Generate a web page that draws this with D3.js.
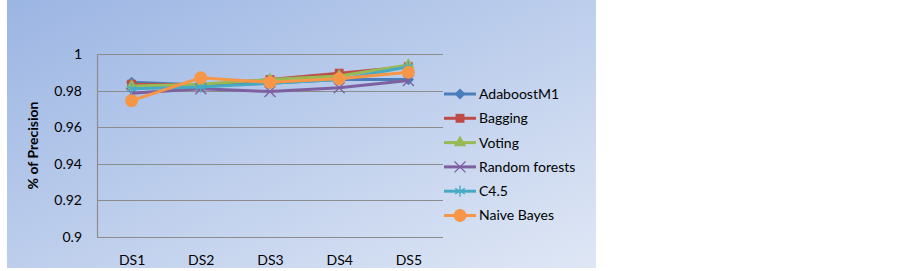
<!DOCTYPE html>
<html>
<head>
<meta charset="utf-8">
<script src="https://cdn.jsdelivr.net/npm/d3@7"></script>
<style>
  body { margin: 0; background: #fff; }
  text { font-family: Lato, "Open Sans", sans-serif; fill: #000; }
</style>
</head>
<body>
<div id="chart"></div>
<script>
const categories = ["DS1", "DS2", "DS3", "DS4", "DS5"];
const seriesNames = ["AdaboostM1", "Bagging", "Voting", "Random forests", "C4.5", "Naive Bayes"];
const adaboost = [0.9845, 0.9830, 0.9840, 0.9860, 0.9860];
const bagging = [0.9835, 0.9830, 0.9860, 0.9895, 0.9930];
const voting = [0.9825, 0.9835, 0.9860, 0.9880, 0.9940];
const randomForests = [0.9785, 0.9810, 0.9795, 0.9815, 0.9855];
const c45 = [0.9810, 0.9820, 0.9840, 0.9860, 0.9930];
const naiveBayes = [0.9745, 0.9870, 0.9845, 0.9865, 0.9900];
const yTicks = [0.9, 0.92, 0.94, 0.96, 0.98, 1];

const colors = ["#4a7ebb", "#be4b48", "#98b954", "#7d60a0", "#46aac5", "#f79646"];
const symbols = ["diamond", "square", "triangle", "x", "star", "circle"];
const allSeries = [adaboost, bagging, voting, randomForests, c45, naiveBayes];

const W = 902, H = 271;
const svg = d3.select("#chart").append("svg")
  .attr("width", W).attr("height", H);

// background panel with gradient
const defs = svg.append("defs");
const grad = defs.append("linearGradient").attr("id", "bg")
  .attr("x1", "0%").attr("y1", "0%").attr("x2", "100%").attr("y2", "100%");
grad.append("stop").attr("offset", "0%").attr("stop-color", "#9bb5e3");
grad.append("stop").attr("offset", "100%").attr("stop-color", "#dfe7f5");
svg.append("rect").attr("x", 7).attr("y", 0).attr("width", 589).attr("height", 268)
  .attr("fill", "url(#bg)");

const plot = {left: 97, right: 443, top: 54, bottom: 237};

const x = d3.scalePoint().domain(categories)
  .range([plot.left, plot.right]).padding(0.5);
const y = d3.scaleLinear().domain([0.9, 1]).range([plot.bottom, plot.top]);

// gridlines
svg.append("g").selectAll("line").data(yTicks).join("line")
  .attr("x1", plot.left).attr("x2", plot.right)
  .attr("y1", d => Math.round(y(d)) + 0.5).attr("y2", d => Math.round(y(d)) + 0.5)
  .attr("stroke", "#8c8c8c").attr("stroke-width", 1.2);
svg.append("line")
  .attr("x1", plot.left + 0.5).attr("x2", plot.left + 0.5)
  .attr("y1", plot.top).attr("y2", plot.bottom + 0.5)
  .attr("stroke", "#8c8c8c").attr("stroke-width", 1.2);

// y tick labels
const yAxis = d3.axisLeft(y).tickValues(yTicks).tickSize(0).tickPadding(15)
  .tickFormat(d => d3.format("")(+d.toFixed(2)));
const ya = svg.append("g").attr("transform", `translate(${plot.left},0)`).call(yAxis);
ya.select(".domain").remove();
ya.selectAll("text").style("font-size", "14px").style("font-family", "Lato, sans-serif");

// x tick labels
const xAxis = d3.axisBottom(x).tickSize(0).tickPadding(18);
const xa = svg.append("g").attr("transform", `translate(0,${plot.bottom})`).call(xAxis);
xa.select(".domain").remove();
xa.selectAll("text").style("font-size", "14px").style("font-family", "Lato, sans-serif");

// y title
svg.append("text")
  .attr("transform", `translate(33,${(plot.top + plot.bottom) / 2}) rotate(-90)`)
  .attr("text-anchor", "middle").attr("dy", "0.35em")
  .style("font-size", "14px").style("font-weight", "bold")
  .text("% of Precision");

function symbolPath(kind, size) {
  if (kind === "diamond") return d3.symbol(d3.symbolDiamond2, size)();
  if (kind === "square") return d3.symbol(d3.symbolSquare, size)();
  if (kind === "triangle") return d3.symbol(d3.symbolTriangle, size)();
  if (kind === "x") return d3.symbol(d3.symbolTimes, size)();
  if (kind === "star") return d3.symbol(d3.symbolAsterisk, size)();
  return d3.symbol(d3.symbolCircle, size)();
}
function markerSize(kind) {
  return {diamond: 80, square: 80, triangle: 65, x: 80, star: 90, circle: 130}[kind];
}
function isStroked(kind) { return kind === "x" || kind === "star"; }

const line = d3.line().x((d, i) => x(categories[i])).y(d => y(d));

allSeries.forEach((vals, s) => {
  const g = svg.append("g");
  g.append("path").datum(vals).attr("d", line)
    .attr("fill", "none").attr("stroke", colors[s]).attr("stroke-width", 3)
    .attr("stroke-linejoin", "round");
  g.selectAll("path.m").data(vals).join("path").attr("class", "m")
    .attr("transform", (d, i) => `translate(${x(categories[i])},${y(d)})`)
    .attr("d", symbolPath(symbols[s], markerSize(symbols[s])))
    .attr("fill", isStroked(symbols[s]) ? "none" : colors[s])
    .attr("stroke", colors[s]).attr("stroke-width", isStroked(symbols[s]) ? 1.3 : 0);
});

// legend
const legend = svg.append("g");
seriesNames.forEach((name, s) => {
  const ly = 94 + s * 24.3;
  const g = legend.append("g").attr("transform", `translate(444,${ly})`);
  g.append("line").attr("x1", 0).attr("x2", 32).attr("y1", 0).attr("y2", 0)
    .attr("stroke", colors[s]).attr("stroke-width", 3);
  g.append("path").attr("transform", "translate(16,0)")
    .attr("d", symbolPath(symbols[s], markerSize(symbols[s])))
    .attr("fill", isStroked(symbols[s]) ? "none" : colors[s])
    .attr("stroke", colors[s]).attr("stroke-width", isStroked(symbols[s]) ? 1.3 : 0);
  g.append("text").attr("x", 35).attr("dy", "0.35em")
    .style("font-size", "14px").text(name);
});
</script>
</body>
</html>
